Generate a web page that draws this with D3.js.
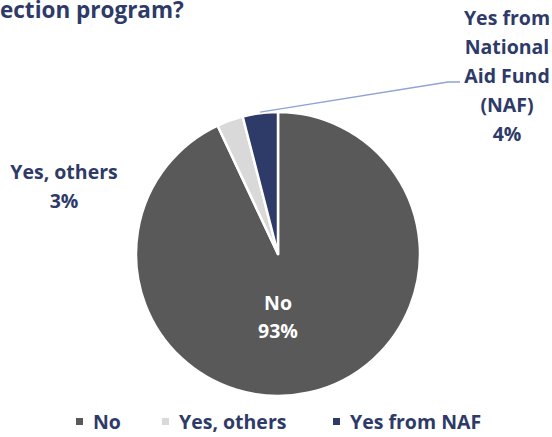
<!DOCTYPE html>
<html>
<head>
<meta charset="utf-8">
<script src="https://cdn.jsdelivr.net/npm/d3@7"></script>
<style>
  html, body { margin: 0; padding: 0; background: #fff; }
  svg { display: block; font-family: "Open Sans", Lato, sans-serif; font-weight: 700; }
</style>
</head>
<body>
<svg id="chart" width="552" height="437"></svg>
<script>
// Survey answers and their shares (percent)
const categories = ["No", "Yes, others", "Yes from NAF"];
const shares = [93, 3, 4];
const sliceLabels = [["No", "93%"], ["Yes, others", "3%"], ["Yes from", "National", "Aid Fund", "(NAF)", "4%"]];
const colors = ["#595959", "#D9D9D9", "#2E3A68"];
const titleText = "ection program?";

const navy = "#2E3A68";
const svg = d3.select("#chart");
const cx = 278, cy = 254, radius = 142;
const labelSize = 19.5;

// Title (its left part runs off the canvas)
svg.append("text")
  .attr("x", 0).attr("y", 17.5)
  .attr("font-size", 22.5)
  .attr("fill", navy)
  .text(titleText);

const pie = d3.pie().sort(null).value(d => d)
  .startAngle(0).endAngle(2 * Math.PI);
const arcs = pie(shares);
const arc = d3.arc().innerRadius(0).outerRadius(radius);

const g = svg.append("g").attr("transform", `translate(${cx},${cy})`);
g.selectAll("path.slice")
  .data(arcs)
  .join("path")
  .attr("class", "slice")
  .attr("d", arc)
  .attr("fill", (d, i) => colors[i])
  .attr("stroke", "#fff")
  .attr("stroke-width", 2.5)
  .attr("stroke-linejoin", "round");

// Label inside the large slice
const noLabel = svg.append("text")
  .attr("x", cx).attr("y", 310)
  .attr("text-anchor", "middle")
  .attr("font-size", labelSize)
  .attr("fill", "#fff");
sliceLabels[0].forEach((t, k) => noLabel.append("tspan").attr("x", cx).attr("dy", k ? 28 : 0).text(t));

// Outside label for "Yes, others"
const othersLabel = svg.append("text")
  .attr("x", 64).attr("y", 179)
  .attr("text-anchor", "middle")
  .attr("font-size", labelSize)
  .attr("fill", navy);
sliceLabels[1].forEach((t, k) => othersLabel.append("tspan").attr("x", 64).attr("dy", k ? 29 : 0).text(t));

// Outside label for NAF with a leader line
const nafArc = arcs[2];
const nafMid = (nafArc.startAngle + nafArc.endAngle) / 2;
const lineStart = [cx + Math.sin(nafMid) * (radius + 1), cy - Math.cos(nafMid) * (radius + 1)];
svg.append("polyline")
  .attr("points", [lineStart, [448, 82], [460, 82]].map(p => p.join(",")).join(" "))
  .attr("fill", "none")
  .attr("stroke", "#8FA3D4")
  .attr("stroke-width", 1.3);

const nafLabel = svg.append("text")
  .attr("x", 507).attr("y", 25)
  .attr("text-anchor", "middle")
  .attr("font-size", labelSize)
  .attr("fill", navy);
sliceLabels[2].forEach((t, k) => nafLabel.append("tspan").attr("x", 507).attr("dy", k ? 29 : 0).text(t));

// Legend
const legendX = [76, 162, 333];
const legend = svg.append("g");
categories.forEach((c, i) => {
  legend.append("rect")
    .attr("x", legendX[i]).attr("y", 418)
    .attr("width", 7).attr("height", 7)
    .attr("fill", colors[i]);
  legend.append("text")
    .attr("x", legendX[i] + 17).attr("y", 429)
    .attr("font-size", labelSize)
    .attr("fill", navy)
    .text(c);
});
</script>
</body>
</html>
